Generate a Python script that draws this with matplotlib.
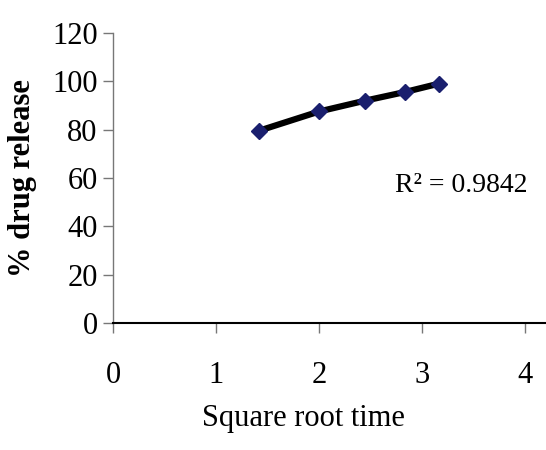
import matplotlib.pyplot as plt

# data
sqrt_time = [1.414, 2.0, 2.449, 2.828, 3.162]
drug_release = [79.5, 87.5, 92.0, 95.5, 99.0]
x_ticks = [0, 1, 2, 3, 4]
y_ticks = [0, 20, 40, 60, 80, 100, 120]
r2_text = 'R² = 0.9842'

plt.rcParams['font.family'] = ['Liberation Serif', 'DejaVu Serif']

fig = plt.figure(figsize=(5.46, 4.5), dpi=100)
ax = fig.add_axes([0.207, 0.282, 0.793, 0.645])

ax.plot(sqrt_time, drug_release, color='black', lw=4.5, marker='D',
        markersize=8, markerfacecolor='#1a1f6e', markeredgecolor='#1a1f6e',
        zorder=3)

ax.set_xlim(0, 4.2)
ax.set_ylim(0, 120)
ax.set_xticks(x_ticks)
ax.set_yticks(y_ticks)
ax.tick_params(axis='both', labelsize=22, direction='out', color='#777777',
               length=7, width=1)
ax.tick_params(axis='x', pad=20)
ax.tick_params(axis='y', pad=4)

for s in ['top', 'right']:
    ax.spines[s].set_visible(False)
ax.spines['left'].set_color('#777777')
ax.spines['left'].set_linewidth(1)
ax.spines['bottom'].set_color('black')
ax.spines['bottom'].set_linewidth(1.5)

ax.set_xlabel('Square root time', fontsize=22)
ax.xaxis.set_label_coords(0.44, -0.28)
ax.set_ylabel('% drug release', fontsize=22, fontweight='bold')
ax.yaxis.set_label_coords(-0.175, 0.5)

ax.text(3.38, 57, r2_text, fontsize=20, ha='center', va='center')

fig.savefig('out.png', dpi=100)
